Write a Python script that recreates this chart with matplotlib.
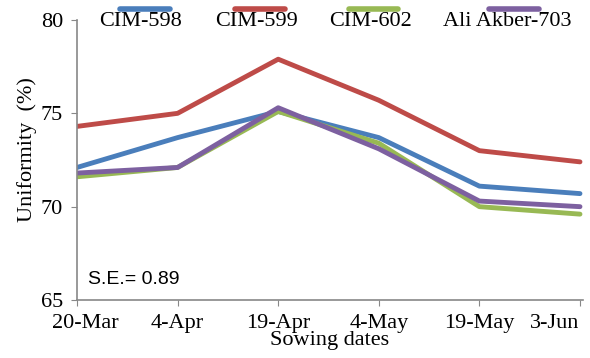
import numpy as np
import matplotlib
matplotlib.use("Agg")
from matplotlib import pyplot as plt
from matplotlib.lines import Line2D
from matplotlib import transforms

plt.rcParams['font.family'] = ['Liberation Serif', 'DejaVu Serif']

dates = ["20-Mar", "4-Apr", "19-Apr", "4-May", "19-May", "3-Jun"]
names = ["CIM-598", "CIM-599", "CIM-602", "Ali Akber-703"]
cim598 = [72.1, 73.7, 75.1, 73.7, 71.1, 70.7]
cim599 = [74.3, 75.0, 77.9, 75.7, 73.0, 72.4]
cim602 = [71.6, 72.1, 75.1, 73.4, 70.0, 69.6]
ali703 = [71.8, 72.1, 75.3, 73.1, 70.3, 70.0]
colors = ['#4a7ebb', '#be4b48', '#98b954', '#7d60a0']

fig = plt.figure(figsize=(5.9, 3.58), dpi=100)
ax = fig.add_axes([77/590, 58/358, 506/590, 280/358])

x = np.arange(len(dates))
for ys, c in zip([cim598, cim599, cim602, ali703], colors):
    ax.plot(x, ys, color=c, lw=3.5, solid_capstyle='round', solid_joinstyle='round')

ax.set_xlim(0, len(dates) - 1 + 0.03)
ax.set_ylim(65, 80)
ax.set_yticks([65, 70, 75, 80])
ax.set_xticks(x)
ax.set_xticklabels(dates)
for s in ['top', 'right']:
    ax.spines[s].set_visible(False)
for s in ['left', 'bottom']:
    ax.spines[s].set_color('#888888')
    ax.spines[s].set_linewidth(1.2)
ax.tick_params(axis='both', colors='#888888', labelcolor='black', labelsize=16, length=4)
ax.tick_params(axis='x', pad=6)
ax.tick_params(axis='y', pad=6)

# first/last date labels are nudged inward like the original
labels = ax.get_xticklabels()
labels[0].set_transform(labels[0].get_transform() +
                        transforms.ScaledTranslation(8/100, 0, fig.dpi_scale_trans))
labels[-1].set_transform(labels[-1].get_transform() +
                         transforms.ScaledTranslation(-25/100, 0, fig.dpi_scale_trans))

ax.set_ylabel("Uniformity  (%)", fontsize=16, va='center')
ax.yaxis.set_label_coords(-0.099, 0.536)
ax.set_xlabel("Sowing dates", fontsize=16, labelpad=-1)
ax.text(0.021, 0.075, "S.E.= 0.89", transform=ax.transAxes, fontsize=14,
        family=['Liberation Sans', 'DejaVu Sans'], va='center')

# legend: line above label, across the top
line_x = [(120, 170), (235, 285), (349, 398), (489, 539)]
text_x = [141, 256, 370, 507]
for (a, b), tx, name, c in zip(line_x, text_x, names, colors):
    fig.add_artist(Line2D([a/590, b/590], [1 - 9/358, 1 - 9/358], color=c, lw=4,
                          solid_capstyle='round', transform=fig.transFigure))
    fig.text(tx/590, 1 - 22/358, name, ha='center', va='center', fontsize=16)

fig.savefig("out.png", dpi=100)
